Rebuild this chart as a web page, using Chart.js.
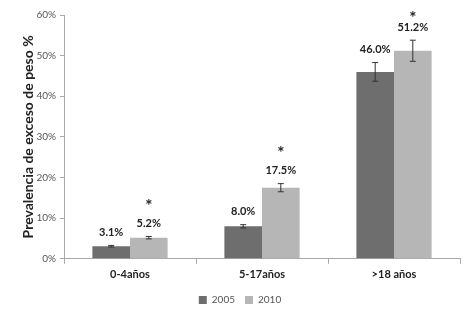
<!DOCTYPE html>
<html>
<head>
<meta charset="utf-8">
<script src="https://cdn.jsdelivr.net/npm/chart.js@4"></script>
<style>
  html, body { margin: 0; padding: 0; background: #fff; }
  #wrap { width: 474px; height: 316px; }
</style>
</head>
<body>
<div id="wrap"><canvas id="chart" width="474" height="316"></canvas></div>
<script>
const categories = ['0-4años', '5-17años', '>18 años'];
const series2005 = [3.1, 8.0, 46.0];
const series2010 = [5.2, 17.5, 51.2];
const err2005 = [0.2, 0.4, 2.3];
const err2010 = [0.3, 1.0, 2.6];
const significant2010 = [true, true, true];
const yTicks = [0, 10, 20, 30, 40, 50, 60];

const COLORS = {
  dark: '#6e6e6e',
  light: '#b6b6b6',
  axis: '#a8a8a8',
  ink: '#222222',
  tick: '#555555',
};
const FONT = 'Lato, "Open Sans", sans-serif';

// ---------- error bars, value labels, asterisks ----------
const annotations = {
  id: 'annotations',
  afterDatasetsDraw(chart) {
    const ctx = chart.ctx;
    const y = chart.scales.y;
    const errs = [err2005, err2010];
    ctx.save();
    chart.data.datasets.forEach((ds, di) => {
      const meta = chart.getDatasetMeta(di);
      meta.data.forEach((bar, i) => {
        const v = ds.data[i];
        const e = errs[di][i];
        const top = y.getPixelForValue(v + e);
        const bot = y.getPixelForValue(v - e);
        ctx.strokeStyle = '#333';
        ctx.lineWidth = 1;
        ctx.beginPath();
        ctx.moveTo(bar.x, top); ctx.lineTo(bar.x, bot);
        ctx.moveTo(bar.x - 3, top); ctx.lineTo(bar.x + 3, top);
        ctx.moveTo(bar.x - 3, bot); ctx.lineTo(bar.x + 3, bot);
        ctx.stroke();

        const labelY = top - 13;
        ctx.fillStyle = COLORS.ink;
        ctx.font = 'bold 11px ' + FONT;
        ctx.textAlign = 'center';
        ctx.textBaseline = 'middle';
        ctx.fillText(v.toFixed(1) + '%', bar.x, labelY);

        if (di === 1 && significant2010[i]) {
          ctx.font = 'bold 17px ' + FONT;
          ctx.fillText('*', bar.x, Math.max(labelY - 17, 19));
        }
      });
    });
    ctx.restore();
  }
};

new Chart(document.getElementById('chart'), {
  type: 'bar',
  data: {
    labels: categories,
    datasets: [
      { label: '2005', data: series2005, backgroundColor: COLORS.dark, categoryPercentage: 0.57, barPercentage: 1 },
      { label: '2010', data: series2010, backgroundColor: COLORS.light, categoryPercentage: 0.57, barPercentage: 1 },
    ],
  },
  options: {
    responsive: false,
    animation: false,
    layout: { padding: { top: 15, right: 14, left: 20, bottom: 1 } },
    plugins: {
      legend: {
        position: 'bottom',
        labels: { boxWidth: 8, boxHeight: 8, font: { family: FONT, size: 10 }, color: COLORS.tick, padding: 10 },
      },
      tooltip: { enabled: false },
    },
    scales: {
      x: {
        grid: { display: true, drawOnChartArea: false, color: COLORS.axis, tickLength: 5, offset: true },
        border: { color: COLORS.axis },
        ticks: { color: COLORS.ink, font: { family: FONT, size: 11, weight: 'bold' }, padding: 4 },
      },
      y: {
        min: 0,
        max: 60,
        afterBuildTicks: s => { s.ticks = yTicks.map(v => ({ value: v })); },
        afterFit: s => { s.width = 44; },
        grid: { display: true, drawOnChartArea: false, color: COLORS.axis, tickLength: 4 },
        border: { color: COLORS.axis },
        ticks: { color: COLORS.tick, font: { family: FONT, size: 10 }, callback: v => v + '%', padding: 4 },
        title: {
          display: true,
          text: 'Prevalencia de exceso de peso %',
          color: COLORS.ink,
          font: { family: FONT, size: 14, weight: 'bold' },
          padding: { top: 0, bottom: 4 },
        },
      },
    },
  },
  plugins: [annotations],
});
</script>
</body>
</html>
